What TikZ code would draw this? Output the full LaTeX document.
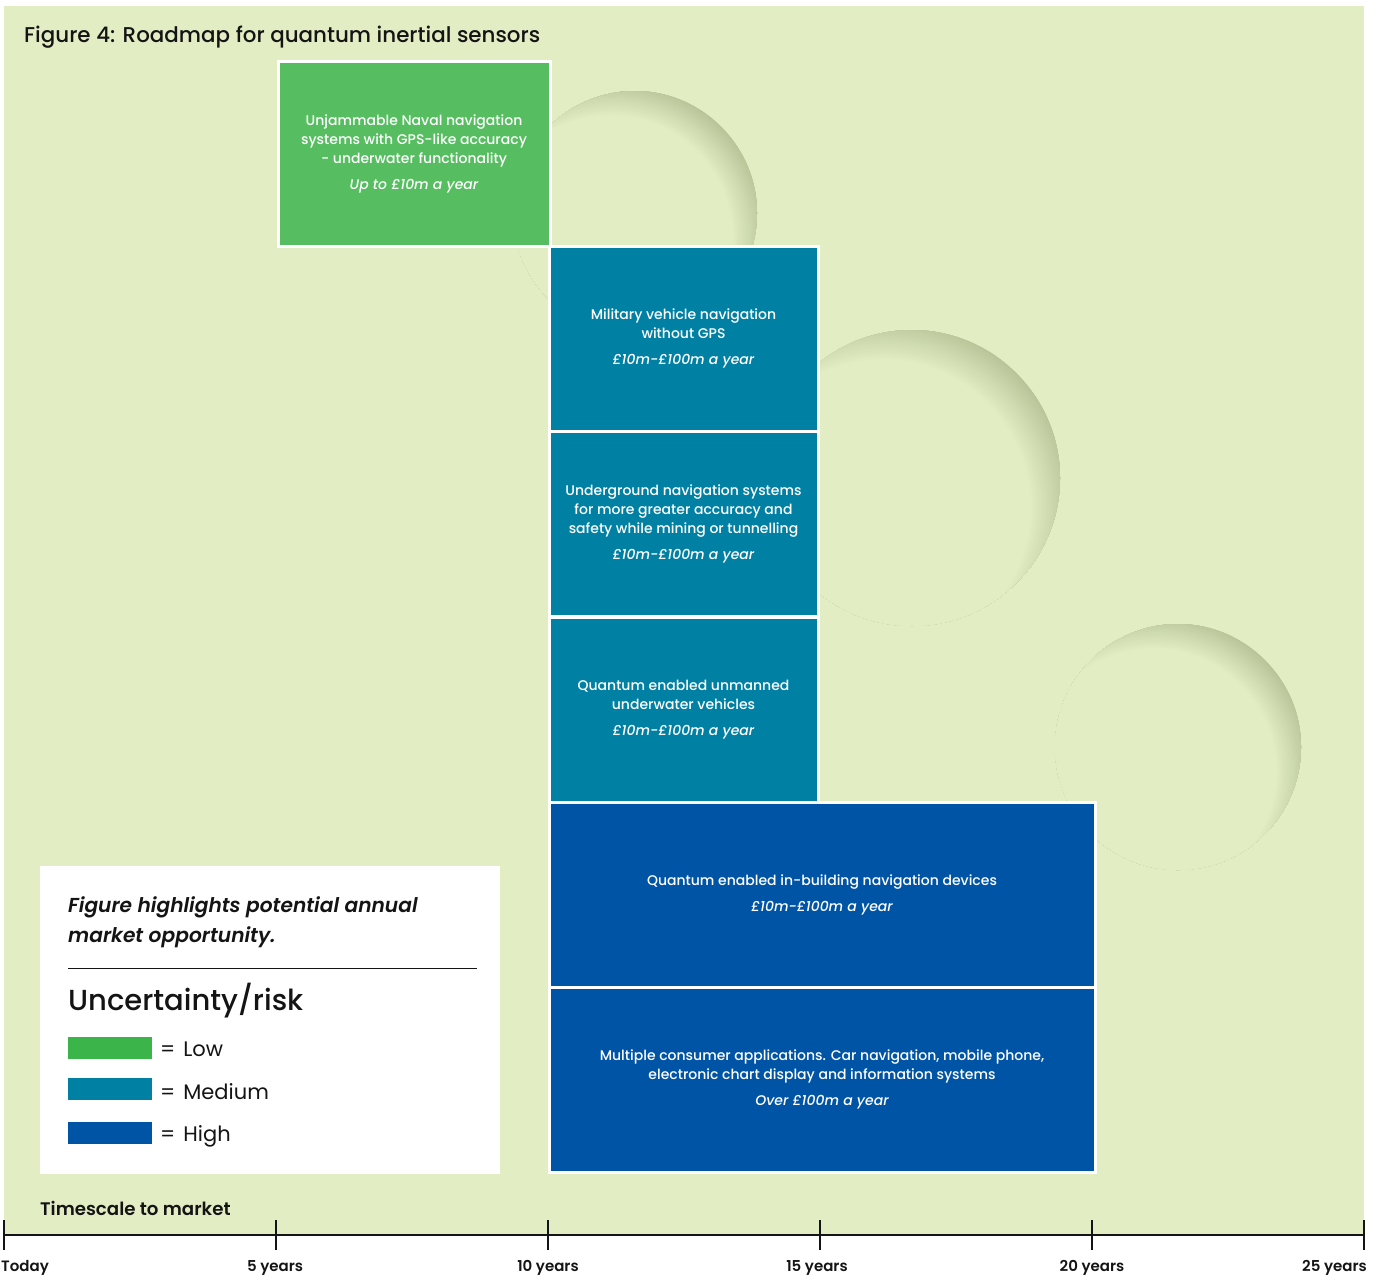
\documentclass[tikz,border=0pt]{standalone}
\usepackage{fontspec}
\setmainfont{Poppins Medium}[ItalicFont={Poppins Medium Italic}, BoldFont={Poppins SemiBold}, BoldItalicFont={Poppins SemiBold Italic}]
\newfontfamily\lightfont{Poppins}
\definecolor{bggreen}{RGB}{226,237,196}
\definecolor{rimgreen}{RGB}{184,195,152}
\definecolor{lowgreen}{RGB}{86,190,96}
\definecolor{legendgreen}{RGB}{59,181,74}
\definecolor{medteal}{RGB}{0,128,163}
\definecolor{highblue}{RGB}{0,84,165}
\definecolor{inktext}{RGB}{20,20,20}
% recessed disc: shaded rim towards the upper right (#1,#2 centre, #3 radius)
\newcommand{\dimpledisc}[3]{%
  \begin{scope}
    \clip (#1,#2) circle[radius=#3];
    \foreach \i in {0,...,30}{%
      \pgfmathsetmacro\rr{#3*(1.29-0.29*\i/30)}%
      \pgfmathsetmacro\pc{100*\i/30}%
      \fill[bggreen!\pc!rimgreen] ({#1-0.2*#3},{#2+0.2*#3}) circle[radius=\rr];
    }
  \end{scope}}
\begin{document}
\begin{tikzpicture}[x=1pt,y=-1pt,
  box/.style={draw=white, line width=3pt, minimum height=185pt, align=center,
    text=white, font=\fontsize{14}{19}\selectfont, inner sep=0pt},
  lowbox/.style={box, fill=lowgreen, minimum width=272pt},
  medbox/.style={box, fill=medteal, minimum width=269pt},
  highbox/.style={box, fill=highblue, minimum width=546pt},
  tick/.style={line width=2pt, draw=inktext},
  plain/.style={inner sep=0pt, text=inktext},
  ticklabel/.style={plain, anchor=base, font=\bfseries\fontsize{15}{18}\selectfont},
  swatch/.style={minimum width=84pt, minimum height=22pt, inner sep=0pt, anchor=north west},
  legendtext/.style={plain, anchor=base west, font=\lightfont\fontsize{21}{25}\selectfont},
  notetext/.style={plain, anchor=base west, font=\bfseries\itshape\fontsize{20.2}{25}\selectfont}
]
\useasboundingbox (0,0) rectangle (1381,1275);
\fill[white] (0,0) rectangle (1381,1275);
\fill[bggreen] (4,6) rectangle (1364,1235);

% background discs
\dimpledisc{635}{213}{122}
\dimpledisc{912}{478}{148}
\dimpledisc{1178}{747}{123}

\node[plain, anchor=base west, font=\fontsize{21.4}{25}\selectfont] (title) at (24,42)
  {Figure 4: Roadmap for quantum inertial sensors};

% roadmap boxes
\node[lowbox] (naval) at (414,153.5)
  {Unjammable Naval navigation\\systems with GPS-like accuracy\\- underwater functionality\\[7pt]\itshape Up to £10m a year};
\node[medbox] (military) at (683.5,338.5)
  {Military vehicle navigation\\without GPS\\[7pt]\itshape £10m-£100m a year};
\node[medbox] (underground) at (683.5,524)
  {Underground navigation systems\\for more greater accuracy and\\safety while mining or tunnelling\\[7pt]\itshape £10m-£100m a year};
\node[medbox] (uuv) at (683.5,709.5)
  {Quantum enabled unmanned\\underwater vehicles\\[7pt]\itshape £10m-£100m a year};
\node[highbox] (inbuilding) at (822,894.5)
  {Quantum enabled in-building navigation devices\\[7pt]\itshape £10m-£100m a year};
\node[highbox] (consumer) at (822,1079.5)
  {Multiple consumer applications. Car navigation, mobile phone,\\electronic chart display and information systems\\[7pt]\itshape Over £100m a year};

% legend panel
\fill[white] (40,866) rectangle (500,1174);
\node[notetext] (note1) at (68,912) {Figure highlights potential annual};
\node[notetext] (note2) at (68,942) {market opportunity.};
\draw[line width=1pt, inktext] (68,968) -- (477,968);
\node[plain, anchor=base west, font=\fontsize{29}{34}\selectfont] (risk) at (68,1010) {Uncertainty/risk};
\node[swatch, fill=legendgreen] (swlow) at (68,1037) {};
\node[swatch, fill=medteal] (swmed) at (68,1078) {};
\node[swatch, fill=highblue] (swhigh) at (68,1122) {};
\node[legendtext] (low) at (160,1056) {=\hspace{8pt}Low};
\node[legendtext] (med) at (160,1099) {=\hspace{8pt}Medium};
\node[legendtext] (high) at (160,1141) {=\hspace{8pt}High};

% time axis
\node[plain, anchor=base west, font=\bfseries\fontsize{18.2}{20}\selectfont] (axistitle) at (40,1215) {Timescale to market};
\coordinate (a0) at (4,1235);
\coordinate (a5) at (1365,1235);
\draw[tick] (a0) -- (a5);
\foreach \x in {4,276,548,820,1092,1364}
  \draw[tick] (\x,1220) -- (\x,1250);
\node[ticklabel, anchor=base west] (t0) at (1,1271) {Today};
\node[ticklabel] (t5) at (275,1271) {5 years};
\node[ticklabel] (t10) at (548,1271) {10 years};
\node[ticklabel] (t15) at (817,1271) {15 years};
\node[ticklabel] (t20) at (1092,1271) {20 years};
\node[ticklabel, anchor=base east] (t25) at (1367,1271) {25 years};
\end{tikzpicture}
\end{document}
